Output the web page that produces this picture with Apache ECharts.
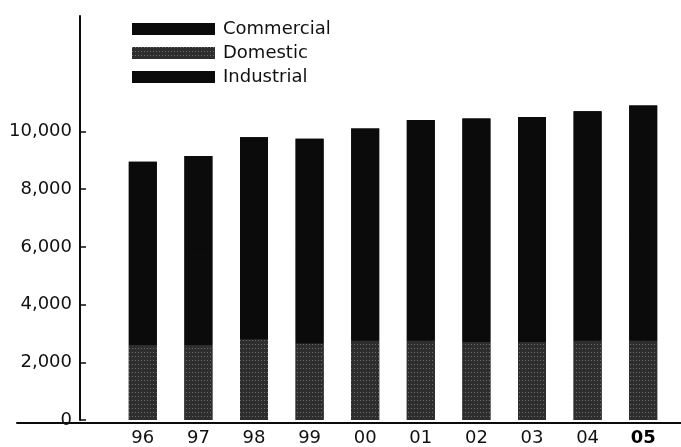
<!DOCTYPE html>
<html>
<head>
<meta charset="utf-8">
<script src="https://cdn.jsdelivr.net/npm/echarts@6/dist/echarts.min.js"></script>
<style>html,body{margin:0;padding:0;background:#fff}#c{width:681px;height:447px}</style>
</head>
<body>
<div id="c"></div>
<script>
const years = ['96','97','98','99','00','01','02','03','04','05'];
const domestic   = [2600, 2600, 2800, 2650, 2750, 2750, 2700, 2700, 2750, 2750];
const industrial = [3300, 3350, 3450, 3400, 3450, 3500, 3500, 3450, 3450, 3500];
const commercial = [3050, 3200, 3550, 3700, 3900, 4150, 4250, 4350, 4500, 4650];
const yTicks = [0, 2000, 4000, 6000, 8000, 10000];
const legendNames = ['Commercial', 'Domestic', 'Industrial'];

const totals = years.map((_, i) => domestic[i] + industrial[i] + commercial[i]);

const FONT = 'DejaVu Sans';
const INK = '#0b0b0b';
const chart = echarts.init(document.getElementById('c'), null, {renderer: 'canvas'});
const fmt = v => v.toLocaleString('en-US');
chart.setOption({
  animation: false,
  backgroundColor: '#fff',
  textStyle: {fontFamily: FONT},
  legend: {
    data: legendNames,
    orient: 'vertical',
    left: 132, top: 19, padding: 0,
    itemWidth: 83, itemHeight: 12, itemGap: 4,
    icon: 'rect',
    selectedMode: false,
    textStyle: {fontFamily: FONT, fontSize: 18, color: '#111', lineHeight: 20, padding: [0, 0, 0, 3]}
  },
  grid: [
    {left: 115, right: 10, top: 16, bottom: 24, containLabel: false},
    {left: 17, right: 0, top: 16, bottom: 24, containLabel: false}
  ],
  xAxis: [
    {
      type: 'category', gridIndex: 0, data: years,
      axisLine: {show: false}, axisTick: {show: false},
      axisLabel: {
        interval: 0, margin: 9, fontFamily: FONT, fontSize: 18, color: '#111',
        formatter: (v, i) => i === years.length - 1 ? '{b|' + v + '}' : v,
        rich: {b: {fontFamily: FONT, fontSize: 18, fontWeight: 'bold', color: '#000'}}
      }
    },
    {
      type: 'value', gridIndex: 1, min: 0, max: 1,
      axisLine: {show: true, lineStyle: {color: INK, width: 2}},
      axisTick: {show: false}, axisLabel: {show: false}, splitLine: {show: false}
    }
  ],
  yAxis: [
    {
      type: 'value', gridIndex: 0, min: 0, max: 14000, interval: 2000,
      offset: 35,
      axisLine: {show: true, lineStyle: {color: INK, width: 2}},
      axisTick: {show: true, inside: true, length: 6, customValues: yTicks, lineStyle: {color: INK, width: 1.5}},
      axisLabel: {margin: 8, fontFamily: FONT, fontSize: 18, color: '#111', customValues: yTicks, formatter: v => fmt(v)},
      splitLine: {show: false}
    },
    {type: 'value', gridIndex: 1, show: false, min: 0, max: 1}
  ],
  series: [
    {
      name: 'Total', type: 'bar', barWidth: 28, barGap: '-100%', z: 1, silent: true,
      data: totals, itemStyle: {color: INK}
    },
    {
      name: 'Domestic', type: 'bar', stack: 't', barWidth: 28, z: 3,
      data: domestic,
      itemStyle: {
        color: '#2e2e2e',
        decal: {symbol: 'rect', symbolSize: 1, color: 'rgba(255,255,255,0.3)', dashArrayX: [1, 2], dashArrayY: [1, 3], rotation: 0}
      }
    },
    {name: 'Industrial', type: 'bar', stack: 't', barWidth: 28, z: 2, data: industrial, itemStyle: {color: INK}},
    {name: 'Commercial', type: 'bar', stack: 't', barWidth: 28, z: 2, data: commercial, itemStyle: {color: INK}}
  ]
});
</script>
</body>
</html>
